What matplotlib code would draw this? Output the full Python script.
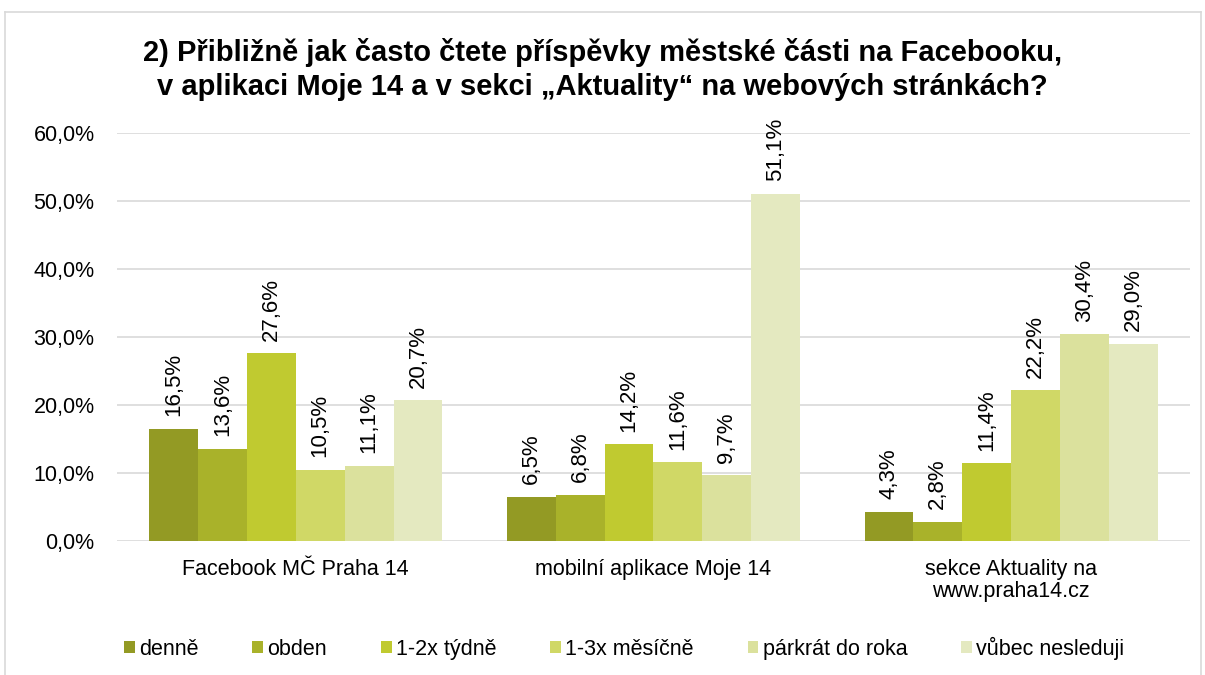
import matplotlib.pyplot as plt
import numpy as np

plt.rcParams['font.family'] = ['Liberation Sans', 'DejaVu Sans']

categories = ['Facebook MČ Praha 14', 'mobilní aplikace Moje 14', 'sekce Aktuality na\nwww.praha14.cz']
series = ['denně', 'obden', '1-2x týdně', '1-3x měsíčně', 'párkrát do roka', 'vůbec nesleduji']
values = [
    [16.5, 6.5, 4.3],
    [13.6, 6.8, 2.8],
    [27.6, 14.2, 11.4],
    [10.5, 11.6, 22.2],
    [11.1, 9.7, 30.4],
    [20.7, 51.1, 29.0],
]
colors = ['#939A24', '#A9B22A', '#C0CA30', '#D0D866', '#DBE19D', '#E4E9C0']
yticks = [0, 10, 20, 30, 40, 50, 60]

fig = plt.figure(figsize=(12.05, 6.75), dpi=100)
ax = fig.add_axes([0.097, 0.1985, 0.8906, 0.6045])

x = np.arange(len(categories))
w = 0.82 / len(series)
for i, (s, vals) in enumerate(zip(series, values)):
    pos = x - 0.41 + w * (i + 0.5)
    ax.bar(pos, vals, width=w, color=colors[i], label=s, edgecolor='none', zorder=2)
    for p, v in zip(pos, vals):
        ax.annotate(f'{v:.1f}%'.replace('.', ','), (p, v), xytext=(0, 9),
                    textcoords='offset points', rotation=90, ha='center', va='bottom',
                    fontsize=16)

ax.set_xlim(-0.5, 2.5)
ax.set_ylim(0, 60)
ax.set_yticks(yticks)
ax.set_yticklabels([f'{t:.1f}%'.replace('.', ',') for t in yticks], fontsize=15.5)
ax.set_xticks(x)
ax.set_xticklabels(categories, fontsize=15.5, linespacing=1.05)
ax.tick_params(length=0)
ax.tick_params(axis='x', pad=13)
ax.tick_params(axis='y', pad=16)
ax.grid(axis='y', color='#D9D9D9', linewidth=1.2, zorder=0)
for sp in ax.spines.values():
    sp.set_visible(False)

fig.text(0.5, 0.897, '2) Přibližně jak často čtete příspěvky městské části na Facebooku,\n'
         'v aplikaci Moje 14 a v sekci „Aktuality“ na webových stránkách?',
         ha='center', va='center', fontsize=21, fontweight='bold', linespacing=1.25)

fig.legend(loc='center', bbox_to_anchor=(0.518, 0.04), ncol=6, frameon=False, fontsize=15.5,
           handlelength=0.5, handleheight=0.5, handletextpad=0.2, columnspacing=2.5)

# chart frame
fig.add_artist(plt.Line2D([5 / 1205, 1201 / 1205], [1 - 12 / 675, 1 - 12 / 675], color='#D9D9D9', lw=1.2))
fig.add_artist(plt.Line2D([5 / 1205, 5 / 1205], [0, 1 - 12 / 675], color='#D9D9D9', lw=1.2))
fig.add_artist(plt.Line2D([1201 / 1205, 1201 / 1205], [0, 1 - 12 / 675], color='#D9D9D9', lw=1.2))

fig.savefig('out.png', dpi=100)
